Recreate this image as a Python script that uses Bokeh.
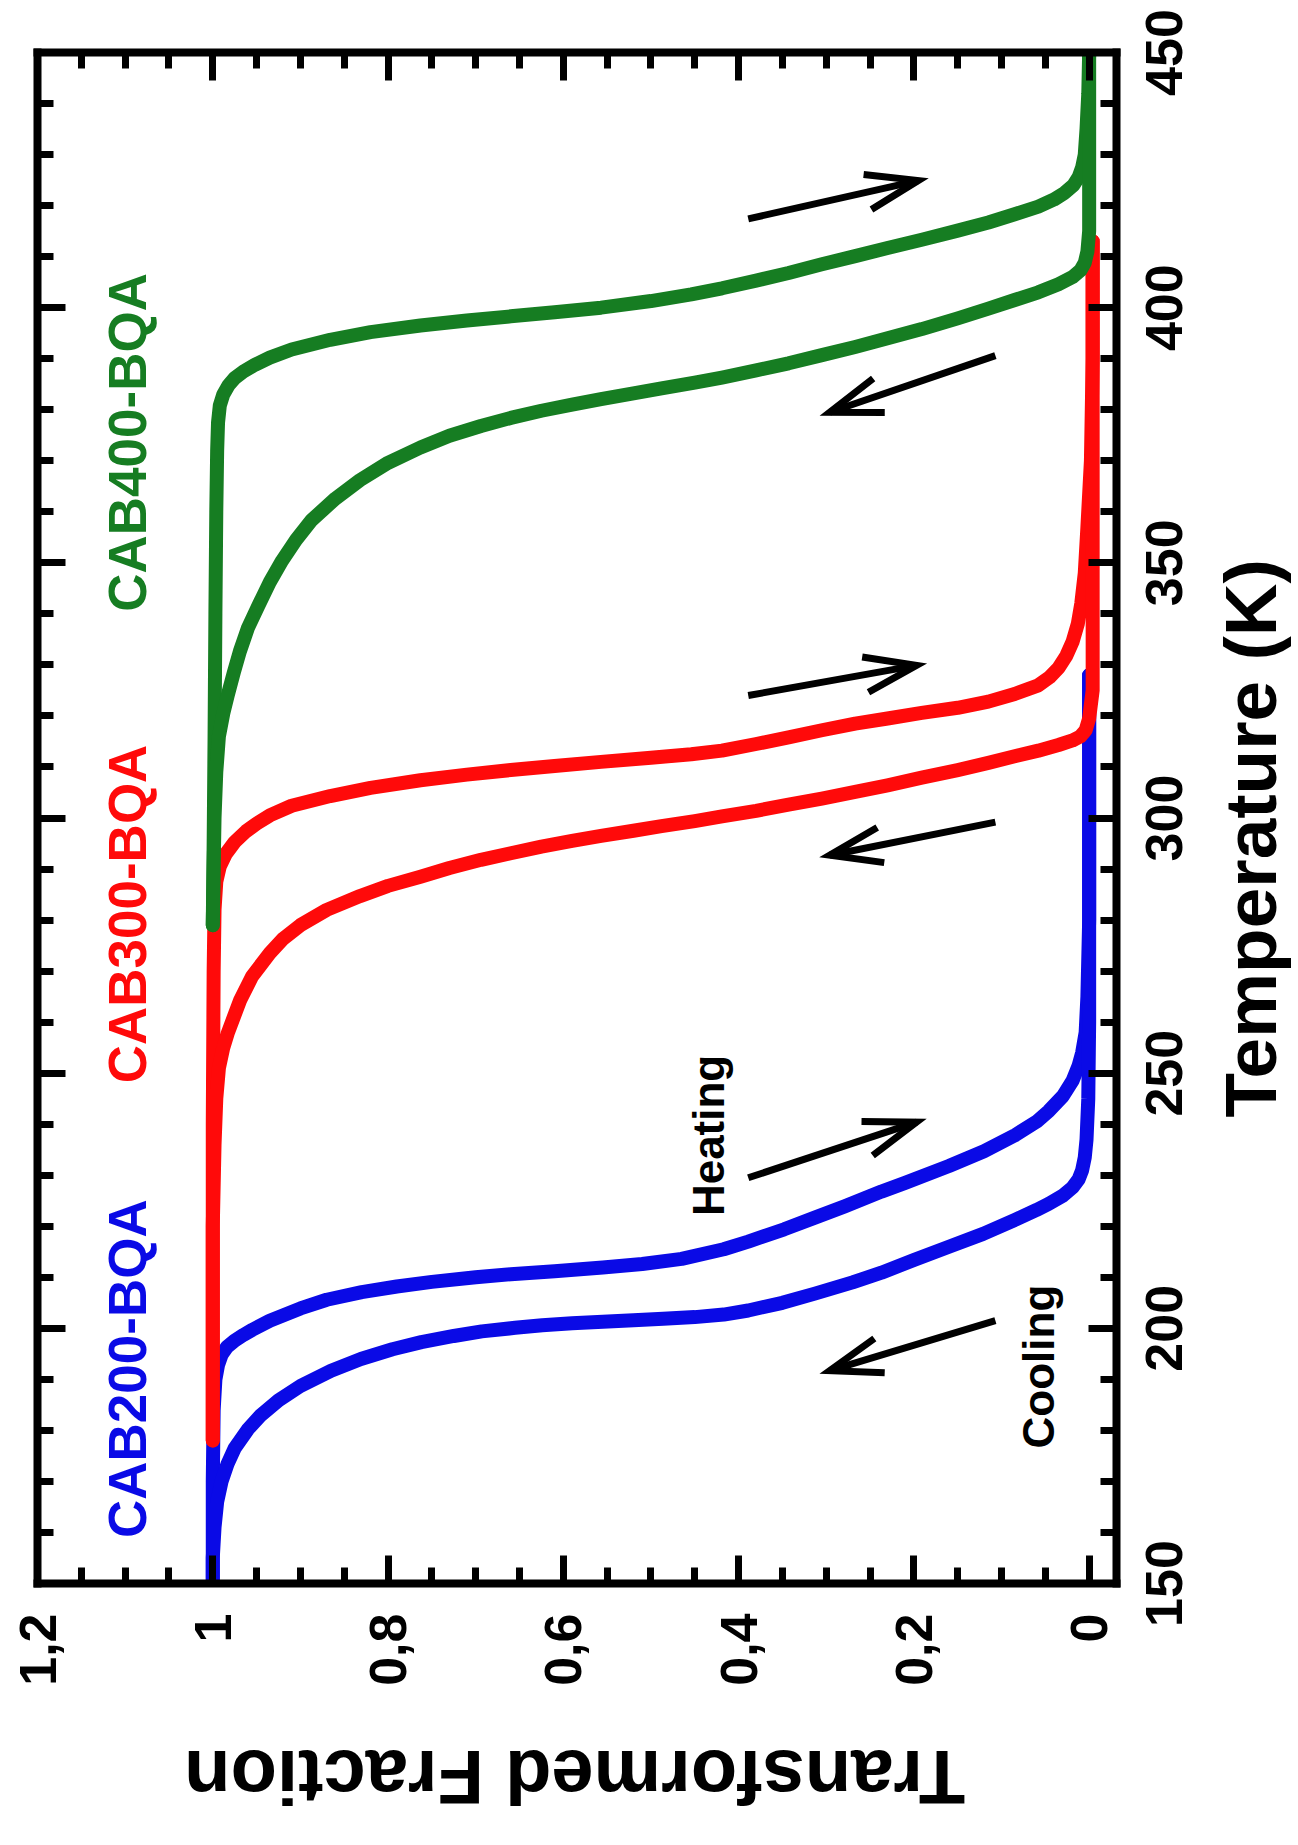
import math
from bokeh.plotting import figure
from bokeh.models import Range1d, LinearAxis, FixedTicker
from bokeh.core.properties import value
from bokeh.embed import file_html
from bokeh.resources import INLINE

# ---------------- data (transformed fraction f, temperature T in K) ----------------
blue_heat_f = [1.0, 1.0, 0.999, 0.997, 0.994, 0.99, 0.984, 0.975, 0.965, 0.955, 0.935, 0.90, 0.87, 0.83, 0.79,
               0.75, 0.70, 0.66, 0.61, 0.555, 0.51, 0.465, 0.417, 0.389, 0.348, 0.313, 0.279, 0.237, 0.21, 0.16,
               0.12, 0.084, 0.06, 0.046, 0.03, 0.019, 0.012, 0.008, 0.004, 0.002, 0.0, 0.0]
blue_heat_T = [150, 170, 184, 190, 192.8, 194.8, 196.3, 197.6, 198.7, 199.7, 201.5, 203.9, 205.6, 207.1, 208.2,
               209.1, 210.0, 210.6, 211.2, 211.9, 212.6, 213.6, 215.5, 217.0, 219.4, 221.7, 223.9, 226.8, 228.5,
               231.8, 234.7, 237.9, 240.5, 242.6, 245.5, 248.5, 251.5, 254, 258, 265, 280, 328]

blue_cool_f = [1.0, 1.0, 0.998, 0.995, 0.99, 0.983, 0.975, 0.96, 0.945, 0.925, 0.9, 0.865, 0.831, 0.795, 0.762,
               0.725, 0.693, 0.655, 0.624, 0.59, 0.555, 0.52, 0.486, 0.45, 0.417, 0.389, 0.35, 0.313, 0.27, 0.237,
               0.2, 0.16, 0.121, 0.084, 0.06, 0.046, 0.03, 0.019, 0.012, 0.008, 0.005, 0.003, 0.001, 0.0, 0.0]
blue_cool_T = [150, 155, 161, 166, 170, 173.5, 176.5, 180.2, 183, 185.9, 188.7, 191.7, 194.0, 195.9, 197.3,
               198.5, 199.4, 200.1, 200.6, 201.0, 201.3, 201.6, 201.9, 202.2, 202.7, 203.5, 205.0, 206.8, 209.0,
               210.9, 213.4, 216.0, 218.5, 221.3, 223.2, 224.4, 226.0, 227.6, 229.2, 231.0, 233.5, 237, 245, 260, 328]

red_heat_f = [1.0, 1.0, 0.999, 0.998, 0.996, 0.992, 0.985, 0.975, 0.962, 0.95, 0.935, 0.91, 0.866, 0.82, 0.763,
              0.71, 0.66, 0.61, 0.557, 0.5, 0.454, 0.419, 0.38, 0.343, 0.305, 0.267, 0.23, 0.191, 0.15, 0.115,
              0.085, 0.058, 0.045, 0.035, 0.026, 0.019, 0.013, 0.009, 0.005, 0.002, -0.002, -0.004, -0.004]
red_heat_T = [178, 240, 270, 282, 287.5, 290.5, 293.0, 295.3, 297.4, 298.9, 300.5, 302.4, 304.3, 305.9, 307.4,
              308.5, 309.4, 310.2, 311.0, 311.8, 312.5, 313.2, 314.5, 315.8, 317.2, 318.5, 319.5, 320.6, 321.6,
              322.8, 324.3, 326.0, 327.6, 329.4, 331.8, 334.5, 338, 342, 348, 357, 370, 390, 413]

red_cool_f = [1.0, 1.0, 0.998, 0.996, 0.993, 0.988, 0.983, 0.976, 0.969, 0.955, 0.935, 0.92, 0.9, 0.87, 0.832,
              0.8, 0.763, 0.73, 0.694, 0.66, 0.625, 0.59, 0.557, 0.52, 0.488, 0.45, 0.419, 0.38, 0.343, 0.305,
              0.267, 0.23, 0.191, 0.15, 0.115, 0.085, 0.058, 0.035, 0.019, 0.01, 0.004, 0.0, -0.004, -0.004]
red_cool_T = [178, 220, 236, 245, 251, 255, 257.8, 261, 264.2, 269, 273.5, 276.3, 279, 282, 284.7,
              286.7, 288.5, 290.2, 291.8, 293.1, 294.4, 295.5, 296.5, 297.5, 298.4, 299.4, 300.3, 301.4, 302.6,
              303.8, 305.1, 306.4, 307.9, 309.4, 310.8, 312.1, 313.2, 314.3, 315.2, 316.0, 317.2, 319.5, 325, 413]

green_heat_f = [1.0, 0.999, 0.998, 0.997, 0.996, 0.995, 0.994, 0.992, 0.988, 0.982, 0.975, 0.965, 0.952, 0.935,
                0.91, 0.866, 0.82, 0.763, 0.71, 0.66, 0.61, 0.557, 0.5, 0.454, 0.419, 0.38, 0.343, 0.305, 0.267,
                0.23, 0.191, 0.15, 0.115, 0.085, 0.058, 0.04, 0.028, 0.018, 0.012, 0.008, 0.005, 0.003, 0.001, 0.0]
green_heat_T = [279, 295, 315, 340, 360, 372, 377.5, 380.8, 383.0, 384.8, 386.2, 387.5, 388.8, 390.2,
                391.8, 393.7, 395.2, 396.5, 397.5, 398.3, 399.1, 400.0, 401.3, 402.6, 403.8, 405.3, 406.8, 408.5,
                410.1, 411.7, 413.3, 415.1, 416.7, 418.3, 419.8, 421.2, 422.5, 424.0, 425.6, 427.5, 430, 435, 442, 450]

green_cool_f = [1.0, 0.999, 0.998, 0.996, 0.993, 0.988, 0.983, 0.976, 0.969, 0.96, 0.948, 0.935, 0.921, 0.905,
                0.887, 0.86, 0.832, 0.8, 0.763, 0.73, 0.694, 0.66, 0.625, 0.59, 0.557, 0.52, 0.488, 0.45, 0.419,
                0.38, 0.343, 0.305, 0.267, 0.23, 0.191, 0.15, 0.115, 0.085, 0.058, 0.035, 0.019, 0.01, 0.005,
                0.002, 0.0, 0.0]
green_cool_T = [279, 290, 300, 309, 316, 320.5, 324, 328.5, 332.7, 337.2, 341.6, 346.2, 350.4, 354.5,
                358.4, 362.6, 366.2, 369.6, 372.6, 374.9, 376.8, 378.4, 379.8, 381.0, 382.1, 383.2, 384.2, 385.3,
                386.3, 387.7, 389.1, 390.7, 392.3, 394.0, 395.8, 397.9, 399.8, 401.5, 403.0, 404.6, 406.0, 407.3,
                408.8, 411, 415, 450]

# arrows (heating / cooling), tail -> tip
arrow_tail_f = [0.389, 0.107, 0.389, 0.107, 0.389, 0.107]
arrow_tail_T = [229.5, 201.5, 324.0, 299.2, 417.4, 390.6]
arrow_tip_f = [0.197, 0.296, 0.197, 0.296, 0.195, 0.296]
arrow_tip_T = [240.4, 191.7, 329.9, 292.7, 424.9, 379.5]

sample_names = ["CAB200-BQA", "CAB300-BQA", "CAB400-BQA"]
sample_colors = ["#0a0ae6", "#ff0a0a", "#167d22"]
sample_label_f = [1.097, 1.097, 1.097]
sample_label_T = [192.1, 281.2, 373.6]

note_texts = ["Heating", "Cooling"]
note_f = [0.434, 0.058]
note_T = [237.8, 192.5]

frac_ticks = [0, 0.2, 0.4, 0.6, 0.8, 1, 1.2]
frac_tick_labels = ["0", "0,2", "0,4", "0,6", "0,8", "1", "1,2"]
frac_minor = [round(0.05 * i, 2) for i in range(0, 25)]
temp_ticks = [150, 200, 250, 300, 350, 400, 450]
temp_tick_labels = ["150", "200", "250", "300", "350", "400", "450"]
temp_minor = list(range(150, 451, 10))

x_title = "Transformed Fraction"
y_title = "Temperature (K)"

# ---------------- figure ----------------
F_LEFT, F_RIGHT = 1.2, -0.0312
T_LOW, T_HIGH = 150, 450
W, H = 1298, 1845
BL, BR, BT, BB = 37, 182, 52, 262
SX = (W - BL - BR) / (F_LEFT - F_RIGHT)   # px per unit fraction
SY = (H - BT - BB) / (T_HIGH - T_LOW)     # px per kelvin
FONT = "Liberation Sans"

p = figure(width=W, height=H, x_range=Range1d(F_LEFT, F_RIGHT), y_range=Range1d(T_LOW, T_HIGH),
           output_backend="svg", toolbar_location=None, x_axis_location="below", y_axis_location="right",
           min_border_left=BL, min_border_right=BR, min_border_top=BT, min_border_bottom=BB,
           background_fill_color="white", border_fill_color="white")
p.grid.visible = False
p.outline_line_color = None

bottom_axis = p.below[0]
right_axis = p.right[0]
top_axis = LinearAxis()
left_axis = LinearAxis()
p.add_layout(top_axis, "above")
p.add_layout(left_axis, "left")

for ax in [bottom_axis, top_axis]:
    ax.ticker = FixedTicker(ticks=frac_ticks, minor_ticks=frac_minor)
    ax.major_label_overrides = {t: l for t, l in zip(frac_ticks, frac_tick_labels)}
for ax in [right_axis, left_axis]:
    ax.ticker = FixedTicker(ticks=temp_ticks, minor_ticks=temp_minor)

for ax in [bottom_axis, right_axis, top_axis, left_axis]:
    ax.axis_line_width = 8
    ax.axis_line_color = "black"
    ax.axis_line_cap = "square"
    ax.major_tick_in = 28
    ax.major_tick_out = 0
    ax.minor_tick_in = 16
    ax.minor_tick_out = 0
    ax.major_tick_line_width = 7
    ax.minor_tick_line_width = 7
    ax.major_tick_line_color = "black"
    ax.minor_tick_line_color = "black"
    ax.major_label_text_font = FONT
    ax.major_label_text_font_style = "bold"
    ax.major_label_text_font_size = "52px"
    ax.major_label_text_color = "black"

# axes whose labels are not shown (box sides) or drawn separately (rotated temperature labels)
for ax in [top_axis, left_axis, right_axis]:
    ax.major_label_text_color = None
    ax.major_label_text_font_size = "10px"
    ax.major_label_standoff = 0

bottom_axis.major_label_orientation = math.pi / 2
bottom_axis.major_label_standoff = 30

# ---------------- curves ----------------
curves = [
    (blue_heat_f, blue_heat_T, sample_colors[0]),
    (blue_cool_f, blue_cool_T, sample_colors[0]),
    (red_heat_f, red_heat_T, sample_colors[1]),
    (red_cool_f, red_cool_T, sample_colors[1]),
    (green_heat_f, green_heat_T, sample_colors[2]),
    (green_cool_f, green_cool_T, sample_colors[2]),
]
for fx, ty, col in curves:
    p.line(fx, ty, line_color=col, line_width=14, line_join="round", line_cap="round")

# ---------------- arrows ----------------
p.segment(x0=arrow_tail_f, y0=arrow_tail_T, x1=arrow_tip_f, y1=arrow_tip_T,
          line_color="black", line_width=7, line_cap="butt")
head_xs, head_ys = [], []
ARM, HALF = 55, math.radians(19)
for tf, tT, hf, hT in zip(arrow_tail_f, arrow_tail_T, arrow_tip_f, arrow_tip_T):
    vx = -(tf - hf) * SX
    vy = (tT - hT) * SY
    n = math.hypot(vx, vy)
    ux, uy = vx / n, vy / n
    pts_x, pts_y = [], []
    for s in (1, -1):
        a = HALF * s
        rx = ux * math.cos(a) - uy * math.sin(a)
        ry = ux * math.sin(a) + uy * math.cos(a)
        pts_x.append(hf - rx * ARM / SX)
        pts_y.append(hT + ry * ARM / SY)
    head_xs.append([pts_x[0], hf, pts_x[1]])
    head_ys.append([pts_y[0], hT, pts_y[1]])
p.multi_line(xs=head_xs, ys=head_ys, line_color="black", line_width=7, line_join="miter", line_cap="butt")

# ---------------- texts inside the box ----------------
p.text(x=sample_label_f, y=sample_label_T, text=sample_names, angle=math.pi / 2,
       text_color=sample_colors, text_font=value(FONT), text_font_style="bold",
       text_font_size="53px", text_align="center", text_baseline="middle")
p.text(x=note_f, y=note_T, text=note_texts, angle=math.pi / 2,
       text_color="black", text_font=value(FONT), text_font_style="bold",
       text_font_size="44px", text_align="center", text_baseline="middle")

# ---------------- rotated texts outside the box (overlay level, not clipped) ----------------
TLAB_F = F_RIGHT - (1163 - (W - BR)) / SX          # centre line of the temperature labels
p.text(x=[TLAB_F] * len(temp_ticks), y=temp_ticks, text=temp_tick_labels, angle=math.pi / 2,
       text_color="black", text_font=value(FONT), text_font_style="bold",
       text_font_size="52px", text_align="center", text_baseline="middle", level="overlay")
p.text(x=[F_RIGHT - (1250 - (W - BR)) / SX], y=[(T_LOW + T_HIGH) / 2 - 4], text=[y_title],
       angle=math.pi / 2, text_color="black", text_font=value(FONT), text_font_style="bold",
       text_font_size="73px", text_align="center", text_baseline="middle", level="overlay")
p.text(x=[0.587], y=[T_LOW - (1777 - (H - BB)) / SY], text=[x_title],
       angle=math.pi, text_color="black", text_font=value(FONT), text_font_style="bold",
       text_font_size="76px", text_align="center", text_baseline="middle", level="overlay")

open("out.html", "w").write(file_html(p, INLINE))
